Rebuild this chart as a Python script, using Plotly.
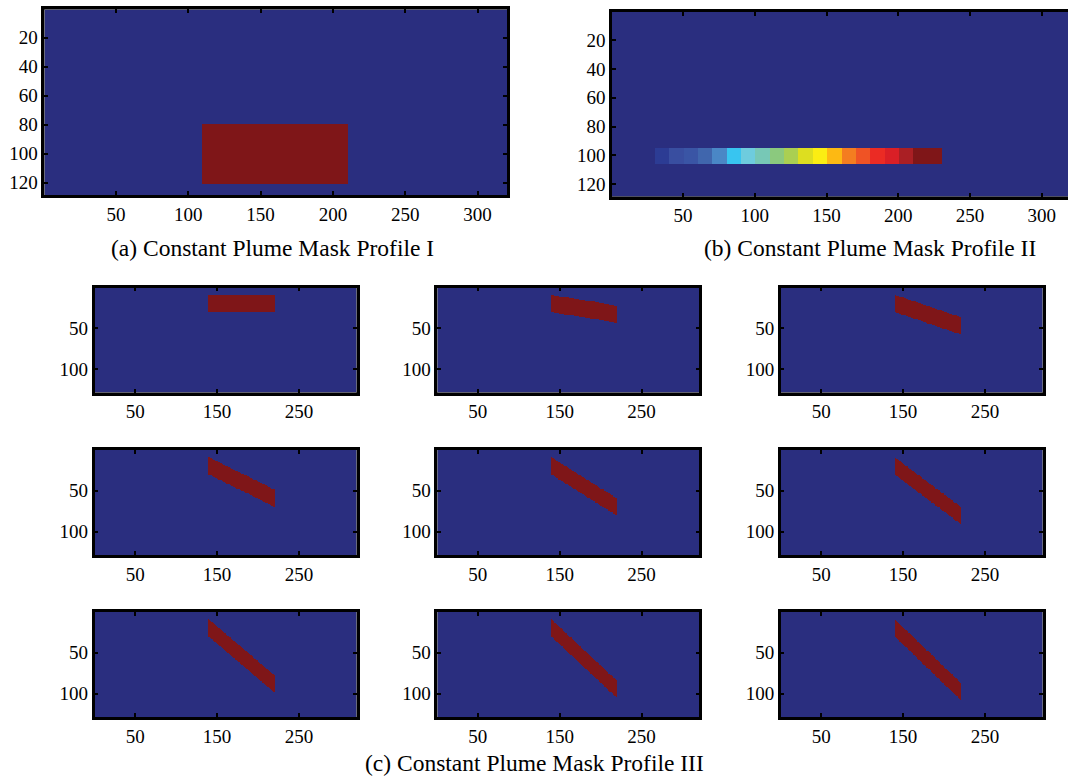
import numpy as np
import plotly.graph_objects as go

# ---------------- data ----------------
N_ROWS = 128
N_COLS = 320

# (a) constant rectangular plume
rect_rows = [80, 120]
rect_cols = [110, 210]

# (b) strip of graded blocks
strip_rows = [95, 105]
strip_col_start = 31
strip_block_width = 10
strip_levels = [1, 2, 3, 4, 5, 6, 7, 8, 9, 10, 11, 12, 13, 14, 15, 16, 17, 18, 19, 20]

# (c) tilted plume masks (9 frames)
plume_cols = [140, 220]
plume_top = 10
plume_thickness = 20
plume_drop = [0, 13, 27, 39, 50, 60, 68, 75, 77]   # rows the plume drops over its length

x_ticks_ab = [50, 100, 150, 200, 250, 300]
y_ticks_ab = [20, 40, 60, 80, 100, 120]
x_ticks_c = [50, 150, 250]
y_ticks_c = [50, 100]

captions = ["(a) Constant Plume Mask Profile I",
            "(b) Constant Plume Mask Profile II",
            "(c) Constant Plume Mask Profile III"]

# ---------------- styles ----------------
BG = "rgb(42,46,127)"
RED = "rgb(127,22,24)"
strip_colors = [BG,
                "rgb(44,60,148)", "rgb(57,78,160)", "rgb(58,85,165)", "rgb(64,102,173)",
                "rgb(74,135,198)", "rgb(56,197,240)", "rgb(110,204,222)", "rgb(119,200,182)",
                "rgb(139,201,126)", "rgb(170,207,82)", "rgb(221,222,32)", "rgb(251,237,19)",
                "rgb(253,185,19)", "rgb(244,125,32)", "rgb(239,83,37)", "rgb(235,43,36)",
                "rgb(218,31,38)", "rgb(170,31,36)", "rgb(127,22,24)", "rgb(127,22,24)"]
FONT = "Times New Roman, Liberation Serif, Times, serif"
W, H = 1068, 776
LW = 2.5

xs = np.arange(1, N_COLS + 1)
ys = np.arange(1, N_ROWS + 1)

# ---------------- build masks ----------------
za = np.zeros((N_ROWS, N_COLS))
za[rect_rows[0] - 1:rect_rows[1], rect_cols[0] - 1:rect_cols[1]] = 1

zb = np.zeros((N_ROWS, N_COLS))
for i, lv in enumerate(strip_levels):
    c0 = strip_col_start + i * strip_block_width
    zb[strip_rows[0] - 1:strip_rows[1], c0 - 1:c0 - 1 + strip_block_width] = lv

zc = []
for drop in plume_drop:
    z = np.zeros((N_ROWS, N_COLS))
    span = plume_cols[1] - plume_cols[0]
    for c in range(plume_cols[0], plume_cols[1] + 1):
        off = drop * (c - plume_cols[0]) / span
        r0 = int(round(plume_top + off))
        r1 = int(round(plume_top + plume_thickness + off))
        z[r0 - 1:r1, c - 1] = 1
    zc.append(z)

# discrete colorscale for strip
n = len(strip_colors)
cs_b = []
for i, col in enumerate(strip_colors):
    cs_b.append([i / n, col])
    cs_b.append([(i + 1) / n, col])
cs_bin = [[0, BG], [0.5, BG], [0.5, RED], [1, RED]]

fig = go.Figure()


def axis_style(domain, rng, tickvals, mirror="ticks"):
    return dict(domain=domain, range=rng, tickvals=tickvals, showgrid=False, zeroline=False,
                showline=True, linecolor="black", linewidth=LW, mirror=mirror,
                ticks="inside", ticklen=4, tickwidth=1.5, tickcolor="black",
                layer="above traces",
                tickfont=dict(family=FONT, size=19, color="black"))


panels = []
# pixel boxes: (left, top, right, bottom)
panels.append(dict(z=za, cs=cs_bin, zmin=0, zmax=1, box=(44.4, 9.4, 507.2, 195),
                   xr=[0.5, 320.5], xt=x_ticks_ab, yt=y_ticks_ab, ymirror="ticks"))
panels.append(dict(z=zb, cs=cs_b, zmin=-0.5, zmax=20.5, box=(612, 11.9, 1068, 196.6),
                   xr=[0.5, 318.3], xt=x_ticks_ab, yt=y_ticks_ab, ymirror=False))
col_left = [94.6, 437.3, 780.7]
row_top = [287.5, 450, 612]
for k in range(9):
    r, c = divmod(k, 3)
    panels.append(dict(z=zc[k], cs=cs_bin, zmin=0, zmax=1,
                       box=(col_left[c], row_top[r], col_left[c] + 262, row_top[r] + 105),
                       xr=[0.5, 320.5], xt=x_ticks_c, yt=y_ticks_c, ymirror="ticks"))

layout_axes = {}
for i, p in enumerate(panels):
    idx = "" if i == 0 else str(i + 1)
    l, t, rgt, b = p["box"]
    fig.add_trace(go.Heatmap(z=p["z"], x=xs, y=ys, colorscale=p["cs"], zmin=p["zmin"], zmax=p["zmax"],
                             showscale=False, hoverinfo="skip", xaxis="x" + idx, yaxis="y" + idx))
    xa = axis_style([l / W, min(rgt / W, 1.0)], p["xr"], p["xt"])
    xa["anchor"] = "y" + idx
    ya = axis_style([1 - b / H, 1 - t / H], [N_ROWS + 0.5, 0.5], p["yt"], mirror=p["ymirror"])
    ya["anchor"] = "x" + idx
    layout_axes["xaxis" + idx] = xa
    layout_axes["yaxis" + idx] = ya
    # frame box in paper coordinates (not clipped), lines just outside the plot area
    h = LW / 2
    right = (rgt + h) / W if p["ymirror"] else 1.02
    fig.add_shape(type="rect", xref="paper", yref="paper",
                  x0=(l - h) / W, x1=right, y0=1 - (b + h) / H, y1=1 - (t - h) / H,
                  line=dict(color="black", width=LW), fillcolor="rgba(0,0,0,0)", layer="above")

fig.update_layout(**layout_axes)

cap_pos = [(272, 248), (870, 248), (534, 763)]
for text, (cx, cy) in zip(captions, cap_pos):
    fig.add_annotation(text=text, x=cx / W, y=1 - cy / H, xref="paper", yref="paper",
                       xanchor="center", yanchor="middle", showarrow=False,
                       font=dict(family=FONT, size=23.5, color="black"))

fig.update_layout(width=W, height=H, autosize=False, margin=dict(l=0, r=0, t=0, b=0),
                  paper_bgcolor="white", plot_bgcolor="white", showlegend=False)

fig.write_html("out.html")
